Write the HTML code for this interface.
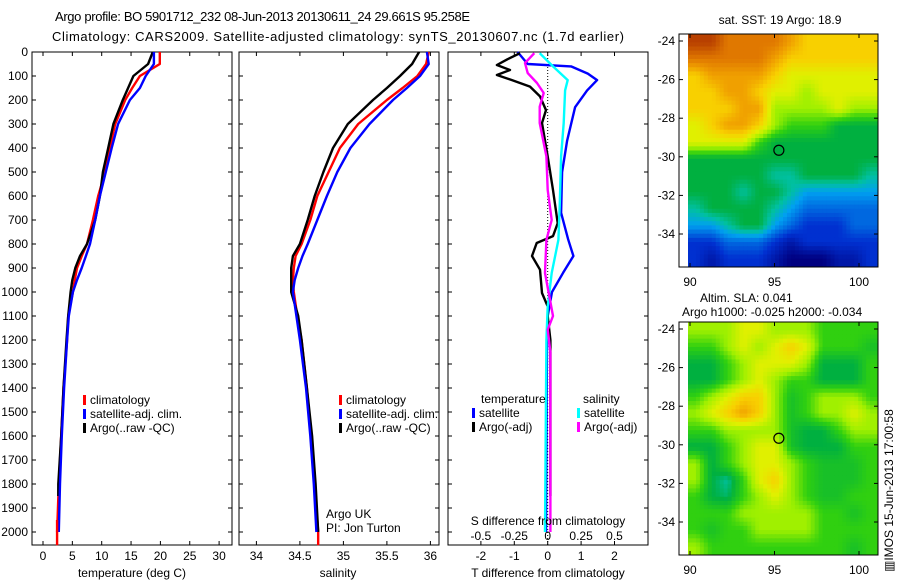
<!DOCTYPE html>
<html><head><meta charset="utf-8"><style>
body{margin:0;background:#fff}
svg{display:block;font-family:"Liberation Sans",sans-serif;font-size:12px}
</style></head><body>
<svg id="fig" width="900" height="580" viewBox="0 0 900 580">
<text x="55" y="21" font-size="13" textLength="415">Argo profile: BO 5901712_232 08-Jun-2013 20130611_24 29.661S 95.258E</text>
<text x="52" y="41" font-size="13" textLength="572">Climatology: CARS2009. Satellite-adjusted climatology: synTS_20130607.nc (1.7d earlier)</text>
</svg>
<script>
// ---------- data ----------
const depthLevels=[0,50,100,150,200,300,400,500,600,700,800,850,900,950,1000,1100,1200,1400,1600,1800,2000];
const tempClim=[19.9,19.9,16.5,15.2,14,12.3,11.4,10.6,9.4,8.5,7.5,6.6,5.8,5.4,5.1,4.3,4.1,3.5,3.1,2.7,2.4];
const tempSat=[18.9,18.9,17.5,16.5,14.8,12.8,11.7,10.7,9.7,8.9,8.0,7.3,6.6,5.8,5.1,4.4,4.1,3.6,3.2,2.9,2.7];
const tempArgo=[18.7,17.9,15.4,14.5,13.6,12.0,11.1,10.2,9.7,8.9,7.5,6.3,5.5,5.0,4.7,4.3,4.0,3.5,3.1,2.6,2.6];
const salClim=[35.98,35.95,35.85,35.68,35.5,35.17,34.96,34.83,34.7,34.62,34.52,34.45,34.43,34.42,34.43,34.47,34.52,34.58,34.63,34.67,34.71];
const salSat=[35.96,35.98,35.88,35.73,35.57,35.3,35.08,34.93,34.81,34.7,34.59,34.53,34.48,34.44,34.42,34.46,34.5,34.57,34.62,34.66,34.69];
const salArgo=[35.87,35.79,35.65,35.5,35.34,35.05,34.88,34.77,34.67,34.59,34.5,34.42,34.4,34.4,34.4,34.48,34.52,34.58,34.64,34.68,34.71];
const dTsatDepth=[0,50,60,90,117,160,230,370,500,670,780,850,920,1000,1100,1200,2000];
const dTsat=[-0.9,-0.6,0.7,1.2,1.48,1.18,0.82,0.58,0.43,0.4,0.61,0.77,0.46,0.13,0,-0.02,-0.05];
const dTargoDepth=[5,30,54,75,96,117,144,185,242,296,435,575,713,767,796,850,907,1004,1060,1100,1200,1850];
const dTargo=[-0.83,-1.2,-1.52,-1.13,-1.52,-1.07,-0.53,-0.23,-0.05,-0.17,0,0.16,0.3,0.16,-0.33,-0.47,-0.23,-0.17,0,0,0.08,0.08];
const dSsatDepth=[5,60,117,160,296,435,643,783,921,1060,1200,2000];
const dSsat=[-0.06,0.04,0.15,0.13,0.12,0.1,0.09,0.08,0.03,0,-0.01,-0.02];
const dSargoDepth=[5,46,88,129,171,228,296,435,575,700,783,921,1100,1157,1250,2000];
const dSargo=[-0.1,-0.17,-0.15,-0.08,-0.03,-0.06,-0.06,-0.01,0,0.03,-0.01,-0.02,0.04,0,0.02,0.02];
const tempTicks=[0,5,10,15,20,25,30];
const salTicks=[34,34.5,35,35.5,36];
const tdTicks=[-2,-1,0,1,2];
const sdTicks=[-0.5,-0.25,0,0.25,0.5];
const depthTicks=[0,100,200,300,400,500,600,700,800,900,1000,1100,1200,1300,1400,1500,1600,1700,1800,1900,2000];
const latTicks=[-24,-26,-28,-30,-32,-34];
const lonTicks=[90,95,100];
const sstGrid=[
[10,10,9,9,9,9,8,7,7,7,7,7],
[9,9,9,9,9,8,7,7,7,7,7,7],
[7,8,8,8,8,7,6,6,6,6,6,6],
[7,7,8,8,7,6,6,5,6,6,6,6],
[7,7,7,8,8,5,5,5,5,6,5,5],
[6,7,8,8,7,5,4,4,4,3,3,3],
[6,6,6,6,4,3,3,3,3,3,3,3],
[3,3,3,3,3,3,3,3,3,3,3,3],
[3,3,3,3,3,2.5,2.5,3,3,3,3,2.5],
[3,3,3,2.5,3,3,2.5,2,2,2,2,2],
[2.5,3,3,3,3,2.5,2,1.5,1.5,1.5,1.5,1.5],
[2,2,2.5,3,3,2,1.5,1,1,1,1.5,1.5],
[1,1,1.5,1.5,1.5,1,0.5,1,1,1,1,1],
[1,0.5,1,1,1,0.5,0,0,0,0.5,0.5,1]];
const slaGrid=[
[5,5,5,6,6,5,5,5,4,4,4,4],
[4,4,5,6,5,6,7,6,4,4,4,3.5],
[3,3,4,5,6,6,6,5,3,3,3,4],
[3,3,4,5,6,5,4,4,3,3,3,4],
[4,5,6,7,7,5,3.5,4,5,5,5,4],
[5,6,7,8,7,5,3.5,4,5,5,6,5],
[4,4,5,5,5,5,3.5,3,3,4,5,5],
[3,3,4,5,6,6,3.5,3,3,3,4,4],
[5,3,4,5,6,6,5,4,3.5,3.5,3.5,4],
[5,3,2.5,4,6,7,5,4,3.5,3.5,3.5,4],
[4,3,2.8,4,5,6,5,4,3.5,3.5,4,4],
[4,4,4,5,5,5,5,5,4,4,3.5,4],
[4,3.5,4,4,5,5,5,5,4,4,4,4],
[5,4,4,4,4,4,4,4,4,4,3.5,4]];
const floatLon=[95.258];
const floatLat=[-29.661];

// ---------- helpers ----------
const NS="http://www.w3.org/2000/svg";
const svg=document.getElementById('fig');
function mk(tag,attrs,parent){const e=document.createElementNS(NS,tag);for(const k in attrs)e.setAttribute(k,attrs[k]);(parent||svg).appendChild(e);return e;}
function txt(x,y,s,anchor,size){const t=mk('text',{x:x,y:y,'text-anchor':anchor||'start','font-size':size||12});t.textContent=s;return t;}
const PT=52, PB=545;
const yD=d=>PT+d*0.24;
function panel(x0,x1,name){
  const r=mk('rect',{x:x0,y:PT,width:x1-x0,height:PB-PT,fill:'none',stroke:'#000','stroke-width':1});
  
  
  depthTicks.forEach(d=>{const y=yD(d);mk('line',{x1:x0,x2:x0+4,y1:y,y2:y,stroke:'#000'});mk('line',{x1:x1-4,x2:x1,y1:y,y2:y,stroke:'#000'});});
}
function xticks(ticks,fx,x0,name,labelY){
  ticks.forEach(v=>{const x=fx(v);mk('line',{x1:x,x2:x,y1:PB,y2:PB-4,stroke:'#000'});mk('line',{x1:x,x2:x,y1:PT,y2:PT+4,stroke:'#000'});
    const t=txt(x,labelY,String(v),'middle');});
}
function line(xs,ds,fx,color,name){
  const p=xs.map((v,i)=>fx(v).toFixed(1)+','+yD(ds[i]).toFixed(1)).join(' ');
  const e=mk('polyline',{points:p,fill:'none',stroke:color,'stroke-width':2.4,'stroke-linejoin':'round'});
  
  
}

// ---------- panel 1: temperature ----------
const xT=v=>43+v*5.87;
panel(32,232,'temperature-panel');
depthTicks.forEach(d=>{const t=txt(28,yD(d)+4,String(d),'end');});
xticks(tempTicks,xT,32,'temperature-tick-label',560);
line(tempClim,depthLevels,xT,'#f00','temperature-climatology-line');
line(tempArgo.slice(0,20).concat([2.6]),depthLevels.slice(0,20).concat([1850]),xT,'#000','temperature-argo-line');
line(tempSat,depthLevels,xT,'#00f','temperature-satellite-line');
mk('line',{x1:xT(2.4),x2:xT(2.4),y1:yD(1950),y2:yD(2055),stroke:'#f00','stroke-width':2.4});
{const t=txt(132,577,'temperature (deg C)','middle');}
function legend(x,y,items,name){items.forEach((it,i)=>{const yy=y+i*14;mk('rect',{x:x,y:yy-9,width:3,height:10,fill:it[1]});const t=txt(x+7,yy,it[0]);});}
legend(83,404,[['climatology','#f00'],['satellite-adj. clim.','#00f'],['Argo(..raw -QC)','#000']],'temperature-legend-entry');

// ---------- panel 2: salinity ----------
const xS=v=>239+(v-33.8)*87;
panel(239,439,'salinity-panel');
xticks(salTicks,xS,239,'salinity-tick-label',560);
line(salClim,depthLevels,xS,'#f00','salinity-climatology-line');
line(salArgo,depthLevels,xS,'#000','salinity-argo-line');
line(salSat,depthLevels,xS,'#00f','salinity-satellite-line');
mk('line',{x1:xS(34.71),x2:xS(34.71),y1:yD(2000),y2:yD(2055),stroke:'#f00','stroke-width':2.4});
{const t=txt(338,577,'salinity','middle');}
legend(339,404,[['climatology','#f00'],['satellite-adj. clim.','#00f'],['Argo(..raw -QC)','#000']],'salinity-legend-entry');
{const t=txt(326,518,'Argo UK');
 const t2=txt(326,532,'PI: Jon Turton');}

// ---------- panel 3: differences ----------
const xDT=v=>547.7+v*33.4;
const xDS=v=>547.7+v*133.6;
panel(448,648,'difference-panel');
xticks(tdTicks,xDT,448,'t-difference-tick-label',560);
sdTicks.forEach(v=>{const t=txt(xDS(v),540,String(v),'middle');});
mk('line',{x1:xDT(0),x2:xDT(0),y1:PT,y2:PB,stroke:'#000','stroke-dasharray':'1,2','stroke-width':1});
line(dTsat,dTsatDepth,xDT,'#00f','t-diff-satellite-line');
line(dTargo,dTargoDepth,xDT,'#000','t-diff-argo-line');
line(dSsat,dSsatDepth,xDS,'#0ff','s-diff-satellite-line');
line(dSargo,dSargoDepth,xDS,'#f0f','s-diff-argo-line');
{const t=txt(548,525,'S difference from climatology','middle');
 const t2=txt(548,577,'T difference from climatology','middle');}
{const t=txt(481,403,'temperature');
 const t2=txt(583,403,'salinity');}
legend(472,417,[['satellite','#00f'],['Argo(-adj)','#000']],'t-diff-legend-entry');
legend(577,417,[['satellite','#0ff'],['Argo(-adj)','#f0f']],'s-diff-legend-entry');

// ---------- maps ----------
const cstops=[[0,[0,0,128]],[1,[0,48,208]],[2,[0,160,240]],[2.5,[0,192,160]],[3,[0,176,64]],[4,[48,208,16]],[5,[160,240,0]],[6,[224,240,0]],[7,[248,208,0]],[8,[240,160,0]],[9,[224,120,0]],[10,[184,64,0]]];
function cmap(v){for(let i=0;i<cstops.length-1;i++){const a=cstops[i],b=cstops[i+1];if(v<=b[0]){const f=(v-a[0])/(b[0]-a[0]);const c=a[1].map((q,k)=>Math.round(q+(b[1][k]-q)*f));return 'rgb('+c.join(',')+')';}}return 'rgb(184,64,0)';}
function sample(grid,r,c){ // bilinear interpolation between grid centres
  const R=grid.length,C=grid[0].length;
  r=Math.max(0,Math.min(R-1,r));c=Math.max(0,Math.min(C-1,c));
  const r0=Math.floor(r),c0=Math.floor(c),r1=Math.min(R-1,r0+1),c1=Math.min(C-1,c0+1),fr=r-r0,fc=c-c0;
  return grid[r0][c0]*(1-fr)*(1-fc)+grid[r0][c1]*(1-fr)*fc+grid[r1][c0]*fr*(1-fc)+grid[r1][c1]*fr*fc;
}
function map(top,grid,name,lonLabelY){
  const x0=679,x1=878,bottom=top+233;
  const lonX=l=>690+(l-90)*16.9;
  const latY=l=>top+7+(-24-l)*19.3;
  const cx0=688,S=4,R=grid.length*S,C=grid[0].length*S;
  const cw=(x1-cx0)/C,ch=(bottom-top)/R;
  for(let r=0;r<R;r++)for(let c=0;c<C;c++){
    const v=sample(grid,(r+0.5)/S-0.5,(c+0.5)/S-0.5);
    const e=mk('rect',{x:(cx0+c*cw).toFixed(2),y:(top+r*ch).toFixed(2),width:(cw+0.5).toFixed(2),height:(ch+0.5).toFixed(2),fill:cmap(v)});
    
    
  }
  const fr=mk('rect',{x:x0,y:top,width:x1-x0,height:bottom-top,fill:'none',stroke:'#000'});
  
  
  latTicks.forEach(l=>{const y=latY(l);mk('line',{x1:x0,x2:x0+4,y1:y,y2:y,stroke:'#000'});mk('line',{x1:x1-4,x2:x1,y1:y,y2:y,stroke:'#000'});
    const t=txt(675,y+4,String(l),'end');});
  lonTicks.forEach(l=>{const x=lonX(l);mk('line',{x1:x,x2:x,y1:bottom,y2:bottom-4,stroke:'#000'});mk('line',{x1:x,x2:x,y1:top,y2:top+4,stroke:'#000'});
    const t=txt(x,lonLabelY,String(l),'middle');});
  const c=mk('circle',{cx:lonX(floatLon[0]),cy:latY(floatLat[0]),r:5,fill:'none',stroke:'#000','stroke-width':1.2});
  
  
}
map(34,sstGrid,'sst-map',286);
map(322,slaGrid,'sla-map',574);
{const t=txt(780,24,'sat. SST: 19 Argo: 18.9','middle');
 const t2=txt(700,302,'Altim. SLA: 0.041');
 const t3=txt(682,316,'Argo h1000: -0.025 h2000: -0.034');
 const t4=txt(0,0,'\u25A5IMOS 15-Jun-2013 17:00:58','start');t4.setAttribute('transform','translate(893,572) rotate(-90)');
 }
</script>
</body></html>
